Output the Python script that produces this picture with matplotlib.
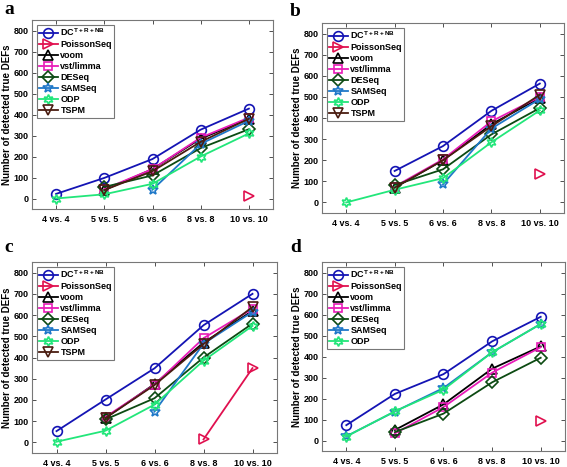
import numpy as np
import matplotlib
matplotlib.use("Agg")
from matplotlib import pyplot as plt

nan = np.nan

CATEGORIES = ["4 vs. 4", "5 vs. 5", "6 vs. 6", "8 vs. 8", "10 vs. 10"]

METHODS = ["DC$^{\\mathbf{T+R+NB}}$", "PoissonSeq", "voom", "vst/limma",
           "DESeq", "SAMSeq", "ODP", "TSPM"]

# panel a
A_DC = [22, 98, 188, 328, 428]
A_POISSON = [nan, nan, nan, nan, 11]
A_VOOM = [nan, 40, 140, 285, 380]
A_VST = [nan, 45, 140, 290, 385]
A_DESEQ = [nan, 55, 110, 240, 330]
A_SAMSEQ = [nan, nan, 42, 260, 370]
A_ODP = [0, 20, 70, 200, 310]
A_TSPM = [nan, 40, 130, 270, 380]

# panel b
B_DC = [nan, 149, 267, 434, 563]
B_POISSON = [nan, nan, nan, nan, 133]
B_VOOM = [nan, 70, 200, 370, 495]
B_VST = [nan, 75, 204, 384, 500]
B_DESEQ = [nan, 82, 157, 322, 447]
B_SAMSEQ = [nan, nan, 86, 350, 490]
B_ODP = [0, 60, 115, 285, 436]
B_TSPM = [nan, 70, 200, 361, 510]

# panel c
C_DC = [53, 202, 349, 552, 700]
C_POISSON = [nan, nan, nan, 14, 350]
C_VOOM = [nan, 115, 275, 470, 620]
C_VST = [nan, 120, 272, 491, 630]
C_DESEQ = [nan, 108, 208, 400, 560]
C_SAMSEQ = [nan, nan, 145, 465, 615]
C_ODP = [3, 55, 178, 385, 549]
C_TSPM = [nan, 115, 270, 463, 638]

# panel d (no TSPM)
D_DC = [73, 222, 316, 472, 589]
D_POISSON = [nan, nan, nan, nan, 94]
D_VOOM = [nan, 50, 172, 342, 448]
D_VST = [nan, 34, 159, 323, 444]
D_DESEQ = [nan, 40, 128, 277, 394]
D_SAMSEQ = [20, 138, 250, 420, 555]
D_ODP = [19, 139, 242, 420, 555]

COLORS = ["#1414b4", "#e0104f", "#000000", "#e81cb8",
          "#0c4a12", "#1f78c8", "#22e67a", "#4a1c10"]

hexagram = (6, 1, 0)
MARKERS = ["o", ">", "^", "s", "D", "*", hexagram, "v"]
MSIZES = [7, 7, 7, 6, 6.5, 7.5, 7, 7]

plt.rcParams['font.family'] = ['Liberation Sans', 'DejaVu Sans']
plt.rcParams['font.weight'] = 'bold'
plt.rcParams['mathtext.fontset'] = 'custom'
plt.rcParams['mathtext.bf'] = 'Liberation Sans:bold'
plt.rcParams['mathtext.rm'] = 'Liberation Sans:bold'

fig = plt.figure(figsize=(5.67, 4.67), dpi=100)

panels = [
    ("a", [A_DC, A_POISSON, A_VOOM, A_VST, A_DESEQ, A_SAMSEQ, A_ODP, A_TSPM],
     [32 / 567, 1 - 209 / 467, 241 / 567, 189 / 467], (4 / 567, 1 - 10 / 467)),
    ("b", [B_DC, B_POISSON, B_VOOM, B_VST, B_DESEQ, B_SAMSEQ, B_ODP, B_TSPM],
     [322 / 567, 1 - 213 / 467, 242 / 567, 190 / 467], (290 / 567, 1 - 12 / 467)),
    ("c", [C_DC, C_POISSON, C_VOOM, C_VST, C_DESEQ, C_SAMSEQ, C_ODP, C_TSPM],
     [32 / 567, 1 - 453 / 467, 245 / 567, 191 / 467], (4 / 567, 1 - 248 / 467)),
    ("d", [D_DC, D_POISSON, D_VOOM, D_VST, D_DESEQ, D_SAMSEQ, D_ODP],
     [322 / 567, 1 - 451 / 467, 243 / 567, 189 / 467], (290 / 567, 1 - 248 / 467)),
]

x = np.arange(1, len(CATEGORIES) + 1)

for letter, series, rect, lpos in panels:
    ax = fig.add_axes(rect)
    for i, vals in enumerate(series):
        ax.plot(x, vals, color=COLORS[i], marker=MARKERS[i], ms=MSIZES[i],
                mfc="none", mec=COLORS[i], mew=1.2, lw=1.3, label=METHODS[i])
    ax.set_xlim(0.5, 5.5)
    ax.set_ylim(-50, 850)
    ax.set_xticks(x)
    ax.set_xticklabels(CATEGORIES)
    ax.set_yticks(range(0, 801, 100))
    ax.tick_params(direction="in", top=True, right=True, labelsize=6.5,
                   length=3, width=0.6, pad=2.5, colors="#333333",
                   labelcolor="black")
    ax.tick_params(axis="x", pad=4)
    for s in ax.spines.values():
        s.set_color("#777777")
        s.set_linewidth(0.8)
    ax.set_ylabel("Number of detected true DEFs", fontsize=7,
                  fontweight="bold", labelpad=1)
    leg = ax.legend(loc="upper left", fontsize=6.5, handlelength=2.1,
                    handletextpad=0.3, labelspacing=0.22, borderpad=0.25,
                    borderaxespad=0.5, fancybox=False, framealpha=1)
    leg.get_frame().set_edgecolor("#777777")
    leg.get_frame().set_linewidth(0.8)
    fig.text(lpos[0], lpos[1], letter, fontsize=14, fontweight="bold",
             family="Liberation Serif", ha="left", va="center")

fig.savefig("out.png", dpi=100)
